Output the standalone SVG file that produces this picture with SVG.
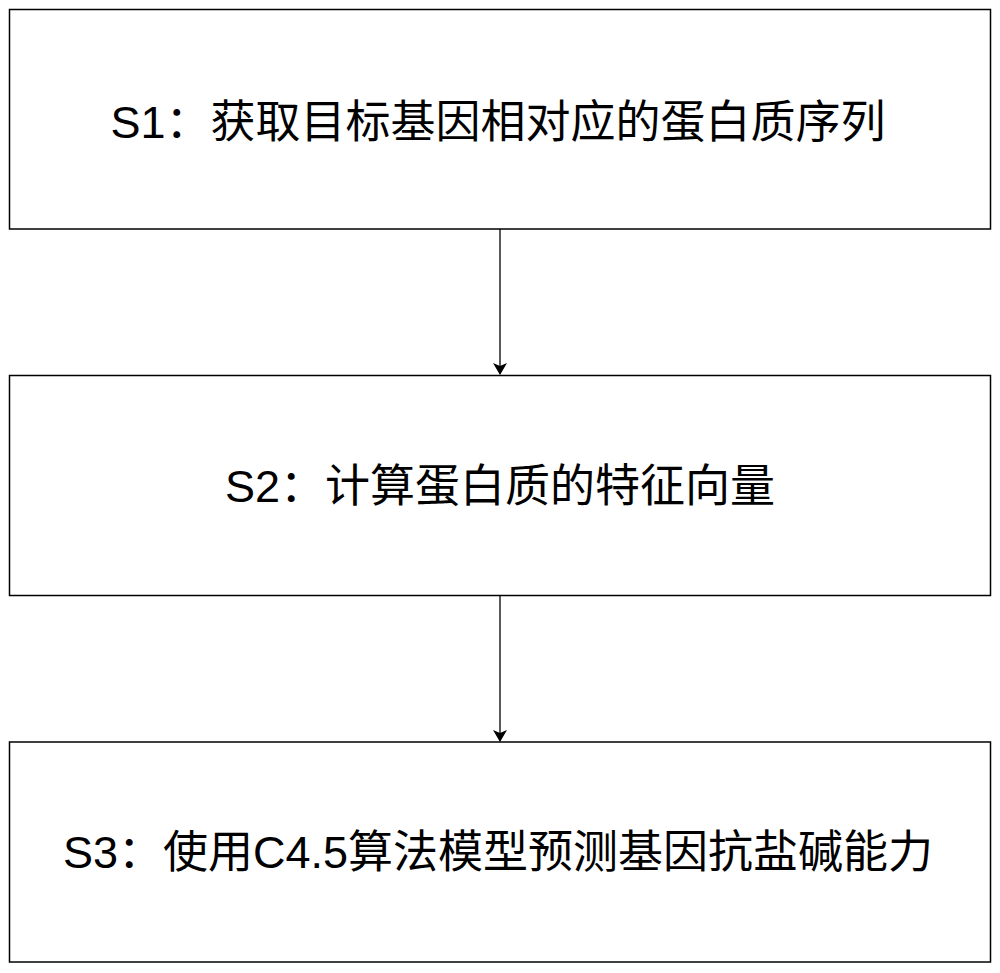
<svg xmlns="http://www.w3.org/2000/svg" width="1000" height="973" viewBox="0 0 1000 973">
<style>
.box{fill:#fff;stroke:#000;stroke-width:1.5}
.lbl{font-family:"Liberation Sans","Noto Sans CJK SC",sans-serif;font-size:45px;fill:#000;text-anchor:middle}
.edge{stroke:#000;stroke-width:1.3;fill:none}
</style>
<defs>
<marker id="arr" markerWidth="12" markerHeight="14" refX="11" refY="7" orient="auto" markerUnits="userSpaceOnUse" viewBox="0 0 12 14">
<path d="M0,0 L12,7 L0,14 L3,7 Z" fill="#000"/>
</marker>
</defs>
<rect width="1000" height="973" fill="#fff"/>
<g id="connectors">
<line class="edge" x1="500" y1="229" x2="500" y2="374" marker-end="url(#arr)"/>
<line class="edge" x1="500" y1="595" x2="500" y2="741" marker-end="url(#arr)"/>
</g>
<g id="s1">
<rect class="box" x="9.5" y="9.5" width="981" height="219.5"/>
<text class="lbl" x="498" y="138">S1：获取目标基因相对应的蛋白质序列</text>
</g>
<g id="s2">
<rect class="box" x="9.5" y="375.5" width="981" height="220"/>
<text class="lbl" x="500" y="502">S2：计算蛋白质的特征向量</text>
</g>
<g id="s3">
<rect class="box" x="9.5" y="742" width="981" height="220"/>
<text class="lbl" x="498" y="868">S3：使用C4.5算法模型预测基因抗盐碱能力</text>
</g>
</svg>
